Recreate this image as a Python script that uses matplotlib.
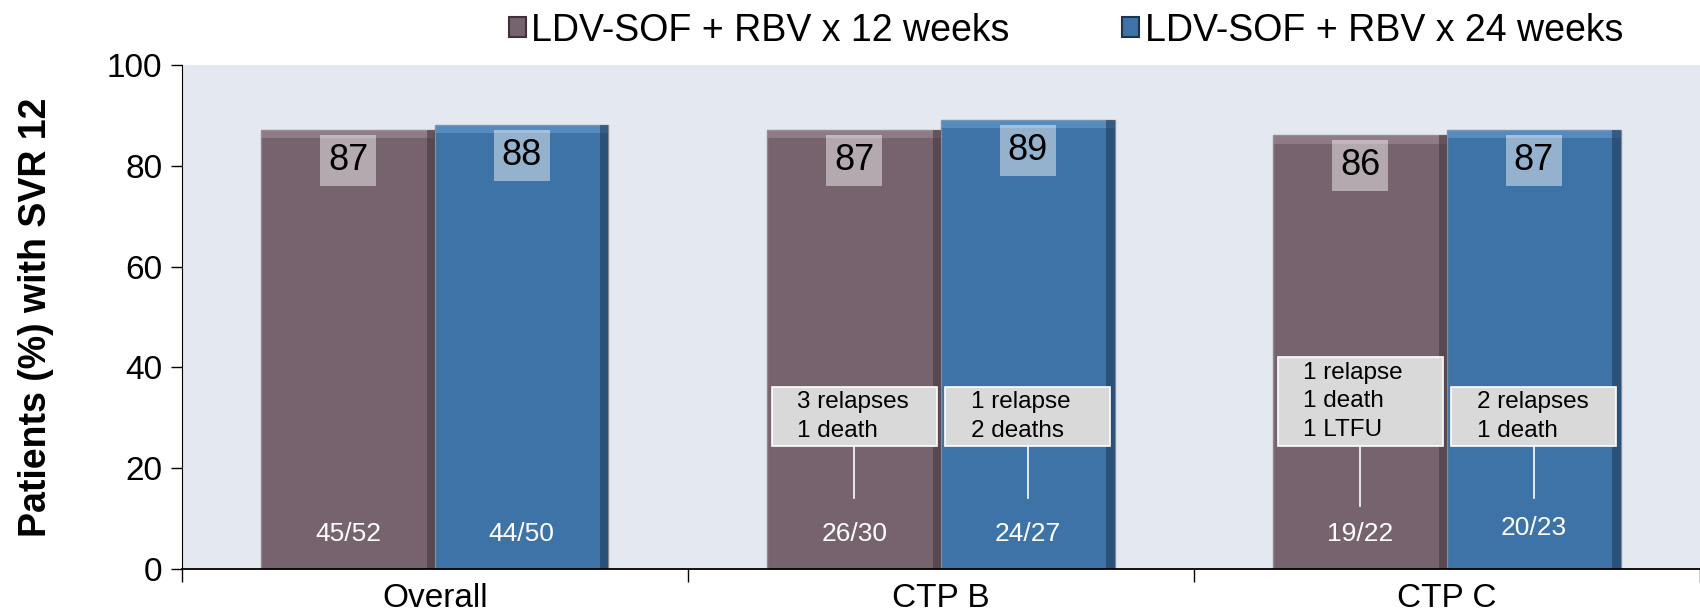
import matplotlib
matplotlib.use('Agg')
import matplotlib.pyplot as plt
from matplotlib.patches import Patch, Rectangle

plt.rcParams['font.family'] = ['Liberation Sans', 'DejaVu Sans']

# ---- data ----
groups = ['Overall', 'CTP B', 'CTP C']
series = ['LDV-SOF + RBV x 12 weeks', 'LDV-SOF + RBV x 24 weeks']
svr_12wk = [87, 87, 86]
svr_24wk = [88, 89, 87]
frac_12wk = ['45/52', '26/30', '19/22']
frac_24wk = ['44/50', '24/27', '20/23']
notes_12wk = ['', '3 relapses\n1 death', '1 relapse\n1 death\n1 LTFU']
notes_24wk = ['', '1 relapse\n2 deaths', '2 relapses\n1 death']

# ---- look ----
bg = '#E4E9F1'
col_12 = '#76636E'
col_24 = '#3E73A7'
hi_12 = '#a48f9b'
hi_24 = '#6a9fd4'
dark_12 = '#3e323a'
dark_24 = '#1b3550'
bar_w = 0.343
bevel_x = 0.016
bevel_y = 1.6

fig = plt.figure(figsize=(17, 6.12), dpi=100)
ax = fig.add_axes([0.107, 0.070, 0.893, 0.824])
ax.set_facecolor(bg)

x = list(range(len(groups)))
x12 = [i - bar_w / 2 for i in x]
x24 = [i + bar_w / 2 for i in x]

for xs, vals, c, hi, dk in ((x12, svr_12wk, col_12, hi_12, dark_12),
                            (x24, svr_24wk, col_24, hi_24, dark_24)):
    ax.bar(xs, vals, width=bar_w, color=c, edgecolor='#8a8a90', linewidth=1.0, zorder=2)
    # fake bevel: light band on top, dark band on the right
    ax.bar(xs, [bevel_y] * len(vals), bottom=[v - bevel_y for v in vals], width=bar_w,
           color=hi, alpha=0.55, linewidth=0, zorder=2.1)
    ax.bar([xi + bar_w / 2 - bevel_x / 2 for xi in xs], vals, width=bevel_x,
           color=dk, alpha=0.55, linewidth=0, zorder=2.2)

# percent labels in light boxes near the bar tops
for xs, vals in ((x12, svr_12wk), (x24, svr_24wk)):
    for xi, v in zip(xs, vals):
        ax.text(xi, v - 6, str(v), ha='center', va='center', fontsize=26, zorder=4,
                bbox=dict(boxstyle='square,pad=0.22', facecolor='white', alpha=0.45,
                          edgecolor='none'))

# n/N at the bar bottoms
frac_y_12 = [6.9, 6.9, 6.9]
frac_y_24 = [6.9, 6.9, 8.2]
for xs, labels, ys in ((x12, frac_12wk, frac_y_12), (x24, frac_24wk, frac_y_24)):
    for xi, lab, yy in zip(xs, labels, ys):
        ax.text(xi, yy, lab, ha='center', va='center', fontsize=19, color='white', zorder=4)

# failure callouts
box_bottom = 24.4
box_top_12 = [None, 36.1, 42.1]
box_top_24 = [None, 36.1, 36.1]
line_end_12 = [None, 14.2, 12.6]
line_end_24 = [None, 14.2, 14.2]
box_w = bar_w * 0.95
for xs, notes, tops, ends in ((x12, notes_12wk, box_top_12, line_end_12),
                              (x24, notes_24wk, box_top_24, line_end_24)):
    for xi, note, top, end in zip(xs, notes, tops, ends):
        if not note:
            continue
        ax.add_patch(Rectangle((xi - box_w / 2, box_bottom), box_w, top - box_bottom,
                               facecolor='#D9D9D9', edgecolor='white', linewidth=1.2, zorder=3))
        ax.plot([xi, xi], [end, box_bottom], color='white', linewidth=1.2, zorder=3)
        ax.text(xi - box_w / 2 + 0.05, (box_bottom + top) / 2, note, ha='left', va='center',
                fontsize=17.5, linespacing=1.4, zorder=4)

ax.set_xlim(-0.5, 2.5)
ax.set_ylim(0, 100)
ax.set_yticks([0, 20, 40, 60, 80, 100])
ax.tick_params(axis='y', labelsize=24, length=8, width=1, direction='out', pad=6)
ax.set_xticks(x)
ax.set_xticklabels(groups, fontsize=24)
ax.tick_params(axis='x', which='major', length=0, pad=10)
ax.set_xticks([-0.5, 0.5, 1.5, 2.5], minor=True)
ax.tick_params(axis='x', which='minor', length=9, width=1, direction='out')
ax.set_ylabel('Patients (%) with SVR 12', fontsize=27, fontweight='bold', labelpad=38)

for side in ('top', 'right'):
    ax.spines[side].set_visible(False)
ax.spines['left'].set_color('black')
ax.spines['bottom'].set_color('black')
ax.spines['bottom'].set_linewidth(1.3)

handles = [Patch(facecolor=col_12, edgecolor=dark_12, linewidth=1.5),
           Patch(facecolor=col_24, edgecolor=dark_24, linewidth=1.5)]
fig.legend(handles, series, loc='center', bbox_to_anchor=(0.627, 0.950), ncol=2,
           frameon=False, fontsize=27, handlelength=0.45, handleheight=0.45,
           handletextpad=0.15, columnspacing=3.0)

fig.savefig('out.png', dpi=100, facecolor='white')
